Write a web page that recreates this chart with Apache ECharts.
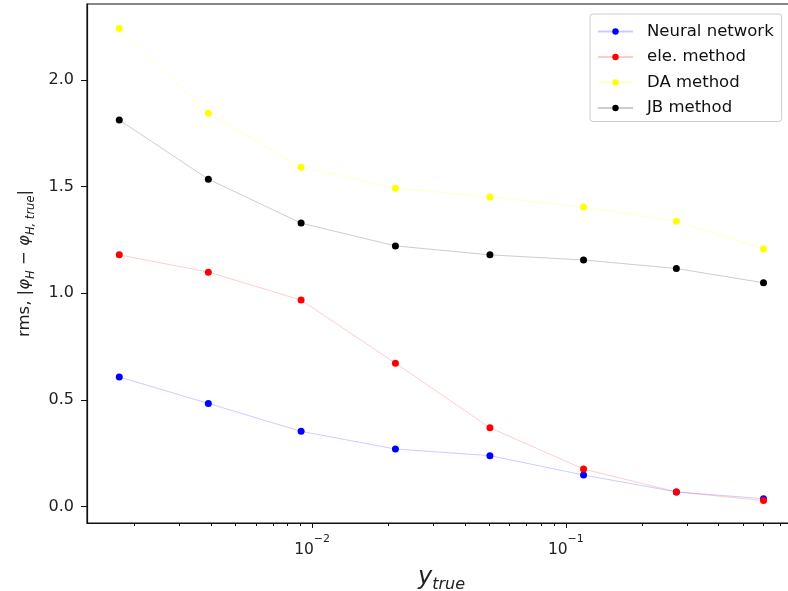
<!DOCTYPE html>
<html><head><meta charset="utf-8">
<script src="https://cdn.jsdelivr.net/npm/echarts@6/dist/echarts.min.js"></script>
<style>html,body{margin:0;padding:0;background:#fff}#c{width:788px;height:591px}</style>
</head><body><div id="c"></div>
<script>
// ---- data ----
const yTrue = [0.001738, 0.0039, 0.00905, 0.0213, 0.0502, 0.1174, 0.2725, 0.601];
const neuralNetwork = [0.607, 0.483, 0.352, 0.269, 0.238, 0.147, 0.068, 0.036];
const eleMethod = [1.180, 1.099, 0.968, 0.672, 0.369, 0.175, 0.068, 0.027];
const daMethod = [2.242, 1.844, 1.591, 1.493, 1.451, 1.404, 1.338, 1.207];
const jbMethod = [1.813, 1.535, 1.329, 1.222, 1.180, 1.156, 1.116, 1.049];
const seriesNames = ['Neural network', 'ele. method', 'DA method', 'JB method'];
const seriesColors = ['#0000ff', '#ff0000', '#ffff00', '#000000'];
const xMajorTicks = [0.01, 0.1];
const xMajorLabels = ['−2', '−1'];
const xMinorTicks = [0.002,0.003,0.004,0.005,0.006,0.007,0.008,0.009,
                     0.02,0.03,0.04,0.05,0.06,0.07,0.08,0.09,
                     0.2,0.3,0.4,0.5,0.6,0.7,0.8];
const yTicks = [0, 0.5, 1.0, 1.5, 2.0];

const FONT = 'DejaVu Sans';
const allValues = [neuralNetwork, eleMethod, daMethod, jbMethod];

const chart = echarts.init(document.getElementById('c'), null, {renderer: 'canvas'});
const xMin = 0.001297, xMax = 0.807;

const option = {
  animation: false,
  backgroundColor: '#ffffff',
  grid: {left: 87, right: -8, top: 4, bottom: 68, outerBoundsMode: 'none', containLabel: false,
         show: true, borderColor: '#111', borderWidth: 1.2, backgroundColor: 'transparent'},
  legend: {
    orient: 'vertical', left: 590, top: 14,
    padding: [9, 8, 5, 7],
    itemWidth: 35, itemHeight: 8, itemGap: 8.5,
    backgroundColor: 'rgba(255,255,255,0.85)', borderColor: '#cccccc', borderWidth: 1, borderRadius: 3,
    textStyle: {fontFamily: FONT, fontSize: 16.5, color: '#111', padding: [0, 0, 0, 9]},
    data: seriesNames
  },
  xAxis: [{
    type: 'log', logBase: 10, min: xMin, max: xMax,
    axisLine: {show: true, onZero: false, lineStyle: {color: '#111', width: 1.2}},
    axisTick: {show: true, length: 5, customValues: xMajorTicks, lineStyle: {color: '#111'}},
    axisLabel: {
      show: true, customValues: xMajorTicks, margin: 11,
      formatter: function (v) {
        const i = xMajorTicks.findIndex(t => Math.abs(Math.log10(t) - Math.log10(v)) < 1e-6);
        return '{b|10}{sup|' + (i >= 0 ? xMajorLabels[i] : '') + '}';
      },
      rich: {
        b: {fontFamily: FONT, fontSize: 15.5, color: '#222', lineHeight: 24, verticalAlign: 'bottom'},
        sup: {fontFamily: FONT, fontSize: 11, color: '#222', verticalAlign: 'top'}
      }
    },
    splitLine: {show: false}, minorTick: {show: false},
    name: '{y|y}{s|true}', nameLocation: 'middle', nameGap: 40,
    nameTextStyle: {
      rich: {
        y: {fontFamily: FONT, fontStyle: 'italic', fontSize: 24, color: '#222', lineHeight: 30, verticalAlign: 'middle'},
        s: {fontFamily: FONT, fontStyle: 'italic', fontSize: 16, color: '#222', verticalAlign: 'bottom'}
      }
    }
  }, {
    type: 'log', logBase: 10, min: xMin, max: xMax, position: 'bottom',
    axisLine: {show: false, onZero: false},
    axisTick: {show: true, length: 3, customValues: xMinorTicks, lineStyle: {color: '#111'}},
    axisLabel: {show: false},
    splitLine: {show: false}
  }],
  yAxis: {
    type: 'value', min: -0.078, max: 2.357,
    axisLine: {show: true, onZero: false, lineStyle: {color: '#111', width: 1.2}},
    axisTick: {show: true, length: 6, customValues: yTicks, lineStyle: {color: '#111'}},
    axisLabel: {customValues: yTicks, margin: 13, fontFamily: FONT, fontSize: 16, color: '#222',
      formatter: v => Number(v).toFixed(1)},
    splitLine: {show: false},
    name: '{t|rms, |}{i|φ}{sub|H}{t| − }{i|φ}{sub|H, true}{t||}',
    nameLocation: 'middle', nameGap: 50,
    nameTextStyle: {
      rich: {
        t: {fontFamily: FONT, fontSize: 16.5, color: '#222', lineHeight: 24, verticalAlign: 'middle'},
        i: {fontFamily: FONT, fontSize: 16.5, fontStyle: 'italic', color: '#222', lineHeight: 24, verticalAlign: 'middle'},
        sub: {fontFamily: FONT, fontSize: 11.5, fontStyle: 'italic', color: '#222', verticalAlign: 'bottom'}
      }
    }
  },
  series: seriesNames.map((name, k) => ({
    name: name, type: 'line', xAxisIndex: 0,
    data: yTrue.map((x, j) => [x, allValues[k][j]]),
    symbol: 'circle', symbolSize: 7,
    itemStyle: {color: seriesColors[k]},
    lineStyle: {color: seriesColors[k], width: 1, opacity: 0.2},
    emphasis: {disabled: true}
  }))
};
chart.setOption(option);
</script>
</body></html>
